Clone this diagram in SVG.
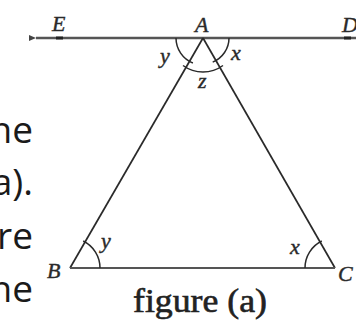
<svg xmlns="http://www.w3.org/2000/svg" width="356" height="322" viewBox="0 0 356 322">
<style>
.lbl{font-family:"Liberation Serif",serif;font-style:italic;font-size:22px;fill:#2a2a2a;stroke:#2a2a2a;stroke-width:0.4}
.side{font-family:"Open Sans",sans-serif;font-size:37px;fill:#1a1a1a}
.ln{stroke:#2a2a2a;stroke-width:1.7;fill:none}
.arc{stroke:#2a2a2a;stroke-width:1.5;fill:none}
</style>
<defs>
<marker id="ah" markerWidth="8" markerHeight="8" refX="1" refY="4" orient="auto" markerUnits="userSpaceOnUse">
<path d="M8,1 L1,4 L8,7 Z" fill="#444"/>
</marker>
</defs>
<rect width="356" height="322" fill="#fff"/>
<g id="side-text">
<text class="side" x="33" y="143" text-anchor="end">he</text>
<text class="side" x="33" y="195" text-anchor="end">a).</text>
<text class="side" x="33" y="249" text-anchor="end">re</text>
<text class="side" x="33" y="302" text-anchor="end">he</text>
</g>
<g id="connectors">
<line x1="356" y1="38" x2="36" y2="38" stroke="#555" stroke-width="2.4" marker-end="url(#ah)"/>
<line x1="56" y1="38" x2="63" y2="38" stroke="#222" stroke-width="3"/>
<line x1="344" y1="38" x2="351" y2="38" stroke="#222" stroke-width="3"/>
<line class="ln" x1="203" y1="38" x2="70" y2="268"/>
<line class="ln" x1="203" y1="38" x2="335" y2="268"/>
<line x1="70" y1="268" x2="335" y2="268" stroke="#555" stroke-width="2.2"/>
</g>
<g id="angles">
<path class="arc" d="M176,38 A27,27 0 0 0 192.9,63"/>
<path class="arc" d="M229,38 A26,26 0 0 1 212.7,62.1"/>
<path class="arc" d="M183,65.5 A34,34 0 0 0 223,65.5"/>
<path class="arc" d="M100,268 A30,30 0 0 0 83.2,241"/>
<path class="arc" d="M305,268 A30,30 0 0 1 321.8,241"/>
</g>
<g id="node-E"><text class="lbl" x="52" y="31">E</text></g>
<g id="node-A"><text class="lbl" x="195" y="32">A</text></g>
<g id="node-D"><text class="lbl" x="342" y="32">D</text></g>
<g id="node-B"><text class="lbl" x="47" y="278">B</text></g>
<g id="node-C"><text class="lbl" x="338" y="281">C</text></g>
<g id="angle-labels">
<text class="lbl" x="160" y="63">y</text>
<text class="lbl" x="231" y="60">x</text>
<text class="lbl" x="198" y="88">z</text>
<text class="lbl" x="101" y="248">y</text>
<text class="lbl" x="290" y="254">x</text>
</g>
<g id="caption">
<text x="133" y="312" font-family="Liberation Serif,serif" font-size="33" fill="#222" stroke="#222" stroke-width="0.6" textLength="134" lengthAdjust="spacingAndGlyphs">figure (a)</text>
</g>
</svg>
